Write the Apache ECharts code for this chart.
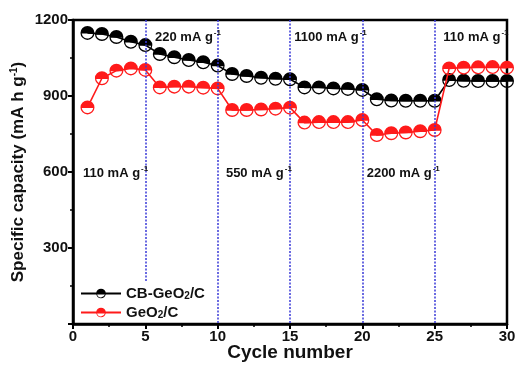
<!DOCTYPE html>
<html><head><meta charset="utf-8">
<script src="https://cdn.jsdelivr.net/npm/echarts@6/dist/echarts.min.js"></script>
<style>html,body{margin:0;padding:0;background:#fff}#c{width:516px;height:366px}</style>
</head><body><div id="c"></div>
<script>
const cycles = [1,2,3,4,5,6,7,8,9,10,11,12,13,14,15,16,17,18,19,20,21,22,23,24,25,26,27,28,29,30];
const cbGeO2C = [1149,1145,1133,1114,1101,1066,1053,1042,1033,1020,987,979,972,968,966,934,934,930,928,924,887,882,881,881,881,963,960,959,959,959];
const geO2C = [855,970,1000,1009,1003,934,937,937,933,930,845,845,847,850,854,795,797,797,797,805,746,753,756,761,766,1009,1012,1013,1014,1012];
const seriesNames = ['CB-GeO2/C','GeO2/C'];
const rateBoundaries = [5,10,15,20,25];
const firstBoundaryEnd = 166;
const rateLabels = ['110','220','550','1100','2200','110'];
const rateLabelX = [0.69,5.67,10.57,15.3,20.3,25.6];
const rateLabelY = [596,1133,596,1133,596,1133];
const xTicks = [0,5,10,15,20,25,30];
const yTicks = [0,300,600,900,1200];

const halfSym = 'path://M0,10 A10,10 0 1,1 20,10 A10,10 0 1,1 0,10 Z M18.2,11 L1.8,11 A8.3,8.3 0 0,0 18.2,11 Z';

const chart = echarts.init(document.getElementById('c'));
const mk = (name, data, color) => ({
  name, type:'line', data: cycles.map((c,i)=>[c,data[i]]),
  symbol: halfSym, symbolSize: 14, symbolKeepAspect: true,
  lineStyle:{color, width:1.6}, itemStyle:{color}, z: name===seriesNames[0]?3:4
});
const markLineData = rateBoundaries.map((b,i)=> i===0
  ? [{coord:[b, yTicks[yTicks.length-1]]},{coord:[b, firstBoundaryEnd]}]
  : [{coord:[b, yTicks[yTicks.length-1]]},{coord:[b, yTicks[0]]}]);
chart.setOption({
  animation:false,
  grid:{left:73,right:9,top:20,bottom:42,show:true,borderColor:'#000',borderWidth:2.5,outerBoundsMode:'none',containLabel:false},
  legend:{
    left:75, top:281, orient:'vertical', itemWidth:40, itemHeight:12, itemGap:4,
    data: seriesNames,
    formatter: n => n.replace('2','{s|2}'),
    textStyle:{fontFamily:'Liberation Sans',fontWeight:'bold',fontSize:15,color:'#111',lineHeight:15,
      rich:{s:{fontFamily:'Liberation Sans',fontWeight:'bold',fontSize:10,lineHeight:15,verticalAlign:'bottom',color:'#111'}}}
  },
  xAxis:{type:'value',min:0,max:30,interval:5,
    name:'Cycle number',nameLocation:'middle',nameGap:19,nameMoveOverlap:false,
    nameTextStyle:{fontFamily:'Liberation Sans',fontWeight:'bold',fontSize:19,color:'#111'},
    axisLine:{lineStyle:{color:'#000',width:2.5}},
    axisTick:{show:true,inside:false,length:5,lineStyle:{width:2,color:'#000'}},
    minorTick:{show:true,splitNumber:2,length:3,lineStyle:{width:1.5,color:'#000'}},
    splitLine:{show:false},
    axisLabel:{fontFamily:'Liberation Sans',fontWeight:'bold',fontSize:15,color:'#111',margin:5,formatter:v=>String(v)}},
  yAxis:{type:'value',min:0,max:1200,interval:300,
    name:'Specific capacity (mA h g{sup|-1})',nameLocation:'middle',nameGap:46,nameMoveOverlap:false,
    nameTextStyle:{fontFamily:'Liberation Sans',fontWeight:'bold',fontSize:17,color:'#111',
      rich:{sup:{fontFamily:'Liberation Sans',fontWeight:'bold',fontSize:10,verticalAlign:'top',padding:[0,0,8,0],color:'#111'}}},
    axisLine:{lineStyle:{color:'#000',width:2.5}},
    axisTick:{show:true,inside:false,length:5,lineStyle:{width:2,color:'#000'}},
    minorTick:{show:true,splitNumber:2,length:3,lineStyle:{width:1.5,color:'#000'}},
    splitLine:{show:false},
    axisLabel:{showMinLabel:false,fontFamily:'Liberation Sans',fontWeight:'bold',fontSize:15,color:'#111',margin:5,formatter:v=>String(v)}},
  series:[
    Object.assign(mk(seriesNames[0], cbGeO2C, '#000'), {
      markLine:{silent:true,symbol:'none',label:{show:false},
        lineStyle:{color:'#3a3ad8',type:[2,1.5],width:1.5},data:markLineData}}),
    mk(seriesNames[1], geO2C, '#ff1a1a'),
    {type:'scatter',symbolSize:0,silent:true,z:5,itemStyle:{opacity:1},
      data: rateLabels.map((t,i)=>({value:[rateLabelX[i],rateLabelY[i]],name:t})),
      label:{show:true,position:'right',distance:0,
        formatter: p => p.name+' mA g{sup|-1}',
        fontFamily:'Liberation Sans',fontWeight:'bold',fontSize:13,color:'#111',
        rich:{sup:{fontFamily:'Liberation Sans',fontWeight:'bold',fontSize:8,verticalAlign:'top',padding:[0,0,9,1],color:'#111'}}}}
  ]
});
</script></body></html>
